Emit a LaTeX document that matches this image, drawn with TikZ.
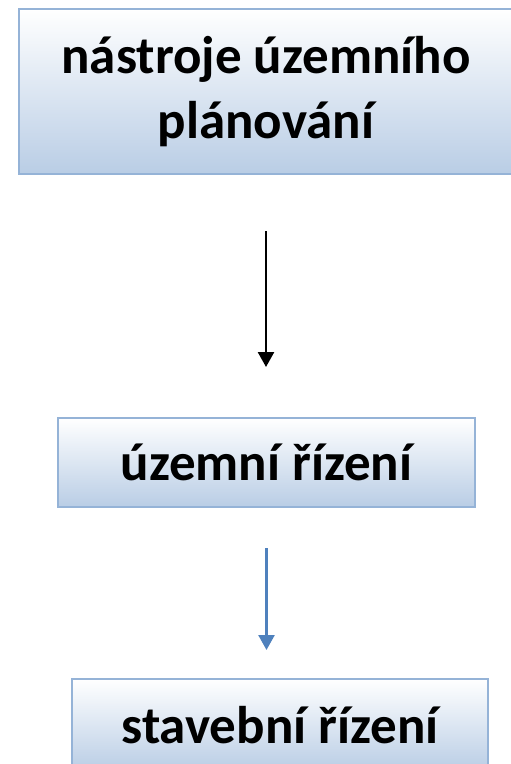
\documentclass[tikz,border=0pt]{standalone}
\usepackage{fontspec}
\setmainfont{Carlito}
\usetikzlibrary{arrows.meta}
\definecolor{boxline}{RGB}{149,179,215}
\definecolor{boxfill}{RGB}{185,205,229}
\definecolor{arrowblue}{RGB}{79,129,189}
\begin{document}
\begin{tikzpicture}[x=1pt,y=-1pt,
		stage/.style={draw=boxline,line width=2pt,top color=white,bottom color=boxfill,
			align=center,inner sep=0pt,font=\fontsize{53}{65}\selectfont\bfseries},
		flow/.style={line width=2.5pt,-{Triangle[width=16pt,length=15pt]}}]
		\useasboundingbox (0,0) rectangle (511,764);
		% boxes
		\node[stage,minimum width=494pt,minimum height=165pt] (plan) at (266,91.5) {nástroje územního\\plánování};
		\node[stage,minimum width=417pt,minimum height=89pt] (uzemni) at (266.5,462.5) {územní řízení};
		\node[stage,minimum width=416pt,minimum height=92pt] (stavebni) at (280,725) {stavební řízení};
		% arrows
		\draw[flow,shorten <=56pt,shorten >=50pt] (plan.south) -- (plan.south |- uzemni.north);
		\draw[flow,arrowblue,shorten <=40pt,shorten >=28pt] (uzemni.south) -- (uzemni.south |- stavebni.north);
\end{tikzpicture}
\end{document}
